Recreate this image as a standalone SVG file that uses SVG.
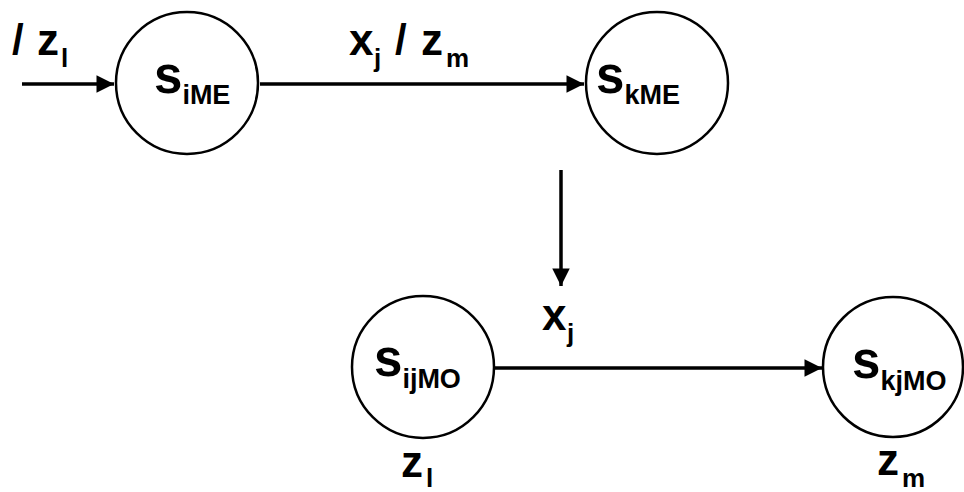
<svg xmlns="http://www.w3.org/2000/svg" width="964" height="492" viewBox="0 0 964 492">
<defs>
<style>
.node{fill:#fff;stroke:#000;stroke-width:2.5}
.edge{stroke:#000;stroke-width:3.5;fill:none}
text{font-family:"Liberation Sans",Arial,sans-serif;font-weight:bold;fill:#000}
.big{font-size:51px}
.sub{font-size:27px}
.lbl{font-size:44px}
.sl{font-size:42px}
.lsub{font-size:26px}
</style>
<marker id="ah" viewBox="0 0 10 10" refX="10" refY="5" markerWidth="7" markerHeight="5" markerUnits="strokeWidth" orient="auto">
<path d="M0,0 L10,5 L0,10 z" fill="#000"/>
</marker>
</defs>
<g id="connectors">
<line class="edge" x1="22" y1="84" x2="114" y2="84" marker-end="url(#ah)"/>
<line class="edge" x1="260" y1="84" x2="584" y2="84" marker-end="url(#ah)"/>
<line class="edge" x1="561" y1="170" x2="561" y2="286" marker-end="url(#ah)"/>
<line class="edge" x1="495" y1="368" x2="822" y2="368" marker-end="url(#ah)"/>
</g>
<g id="lbl-in">
<text class="sl" x="12" y="54">/</text><text class="lbl" x="37" y="55">z</text><text class="lsub" x="61" y="67">l</text>
</g>
<g id="lbl-top">
<text class="lbl" x="349" y="55">x</text><text class="lsub" x="374" y="67">j</text><text class="sl" x="395" y="54">/</text><text class="lbl" x="421" y="55">z</text><text class="lsub" x="446" y="67">m</text>
</g>
<g id="lbl-mid">
<text class="lbl" x="542" y="330">x</text><text class="lsub" x="567" y="342">j</text>
</g>
<g id="lbl-zl">
<text class="lbl" x="401" y="477">z</text><text class="lsub" x="426" y="487">l</text>
</g>
<g id="lbl-zm">
<text class="lbl" x="877" y="475">z</text><text class="lsub" x="902" y="487">m</text>
</g>
<g id="s_iME">
<circle class="node" cx="187" cy="83" r="71"/>
<text class="big" x="154" y="93">s<tspan class="sub" dy="11">iME</tspan></text>
</g>
<g id="s_kME">
<circle class="node" cx="657" cy="83" r="71"/>
<text class="big" x="596" y="93">s<tspan class="sub" dy="11">kME</tspan></text>
</g>
<g id="s_ijMO">
<circle class="node" cx="423" cy="367" r="71"/>
<text class="big" x="374" y="376">s<tspan class="sub" dy="12">ijMO</tspan></text>
</g>
<g id="s_kjMO">
<circle class="node" cx="893" cy="367" r="70"/>
<text class="big" x="852" y="378">s<tspan class="sub" dy="12">kjMO</tspan></text>
</g>
</svg>
